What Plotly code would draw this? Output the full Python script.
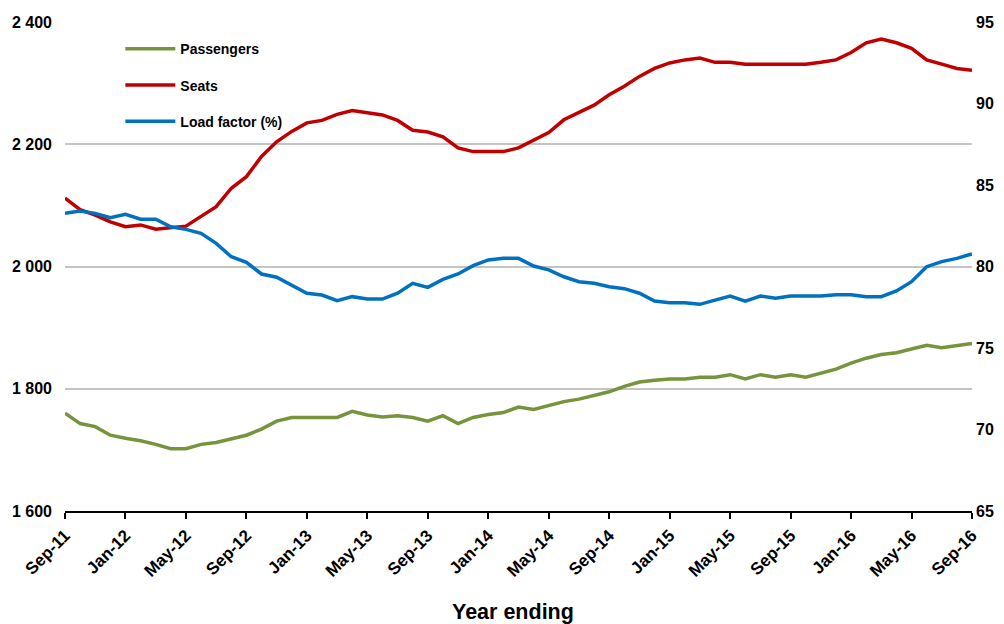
import pandas as pd
import plotly.graph_objects as go

months = [d.strftime("%b-%y") for d in pd.date_range("2011-09-01", "2016-09-01", freq="MS")]

passengers = [1760, 1743, 1738, 1724, 1719, 1715, 1709, 1702, 1702, 1709,
              1712, 1718, 1724, 1734, 1747, 1753, 1753, 1753, 1753, 1763,
              1757, 1754, 1756, 1753, 1747, 1756, 1743, 1753, 1758, 1761,
              1770, 1766, 1772, 1779, 1783, 1789, 1795, 1804, 1811, 1814,
              1816, 1816, 1819, 1819, 1823, 1816, 1823, 1819, 1823, 1819,
              1825, 1832, 1842, 1850, 1856, 1859, 1865, 1871, 1867, 1870,
              1874]

seats = [2112, 2093, 2084, 2073, 2065, 2068, 2061, 2063, 2066, 2082,
         2098, 2128, 2147, 2180, 2204, 2221, 2235, 2239, 2249, 2255,
         2252, 2248, 2239, 2223, 2220, 2212, 2194, 2188, 2188, 2188,
         2194, 2207, 2219, 2240, 2252, 2264, 2281, 2295, 2311, 2324,
         2333, 2338, 2341, 2334, 2334, 2331, 2331, 2331, 2331, 2331,
         2334, 2338, 2350, 2366, 2372, 2366, 2357, 2338, 2331, 2324,
         2321]

load_factor = [83.26, 83.4, 83.26, 83.0, 83.2, 82.9, 82.9, 82.44, 82.28, 82.04,
               81.42, 80.6, 80.26, 79.54, 79.34, 78.82, 78.36, 78.25, 77.9, 78.15,
               78.0, 78.0, 78.36, 78.97, 78.72, 79.21, 79.54, 80.05, 80.4, 80.5,
               80.5, 80.03, 79.79, 79.37, 79.07, 78.97, 78.76, 78.64, 78.36, 77.88,
               77.78, 77.78, 77.68, 77.94, 78.19, 77.88, 78.19, 78.05, 78.19, 78.19,
               78.19, 78.27, 78.27, 78.15, 78.15, 78.5, 79.07, 79.99, 80.3, 80.5,
               80.77]

tick_labels = months[::4]

font_family = "Liberation Sans, Arial, sans-serif"

fig = go.Figure()
fig.add_trace(go.Scatter(x=months, y=passengers, name="Passengers", mode="lines",
                         line=dict(color="#77933C", width=3.5), legendgroup="a"))
fig.add_trace(go.Scatter(x=months, y=seats, name="Seats", mode="lines",
                         line=dict(color="#C00000", width=3.5), legendgroup="b"))
fig.add_trace(go.Scatter(x=months, y=load_factor, name="Load factor (%)", mode="lines",
                         line=dict(color="#0070C0", width=3.5), legendgroup="c", yaxis="y2"))

fig.update_layout(
    width=996, height=616,
    margin=dict(l=57, r=32, t=14, b=113, autoexpand=False),
    paper_bgcolor="white", plot_bgcolor="white",
    separators=". ",
    font=dict(family=font_family, size=15, color="#000000", weight="bold"),
    showlegend=True,
    legend=dict(x=0.061, y=0.977, xanchor="left", yanchor="top",
                bgcolor="rgba(0,0,0,0)", traceorder="grouped", tracegroupgap=15,
                font=dict(size=14, family=font_family, weight="bold"), itemwidth=50),
    xaxis=dict(type="category", range=[0, len(months) - 1], automargin=False,
               tickmode="array", tickvals=tick_labels, ticktext=tick_labels,
               tickangle=-45, ticks="outside", ticklen=6, tickwidth=2, tickcolor="#000",
               showline=True, linecolor="#000", linewidth=2, showgrid=False,
               tickfont=dict(size=17, weight="bold")),
    yaxis=dict(range=[1600, 2400], dtick=200, tickformat=",d", showgrid=True,
               gridcolor="#C4C4C4", gridwidth=1.5, zeroline=False, showline=False,
               automargin=False, ticks="", ticklabelstandoff=12,
               tickfont=dict(size=16, weight="bold")),
    yaxis2=dict(range=[65, 95], dtick=5, overlaying="y", side="right", showgrid=False,
                zeroline=False, showline=False, ticks="", ticklabelstandoff=3,
                automargin=False, tickfont=dict(size=16, weight="bold")),
    annotations=[dict(text="Year ending", x=0.494, xref="paper", y=-0.2065, yref="paper",
                      xanchor="center", yanchor="middle", showarrow=False,
                      font=dict(size=21.5, family=font_family, weight="bold"))],
)

fig.write_html("out.html")
